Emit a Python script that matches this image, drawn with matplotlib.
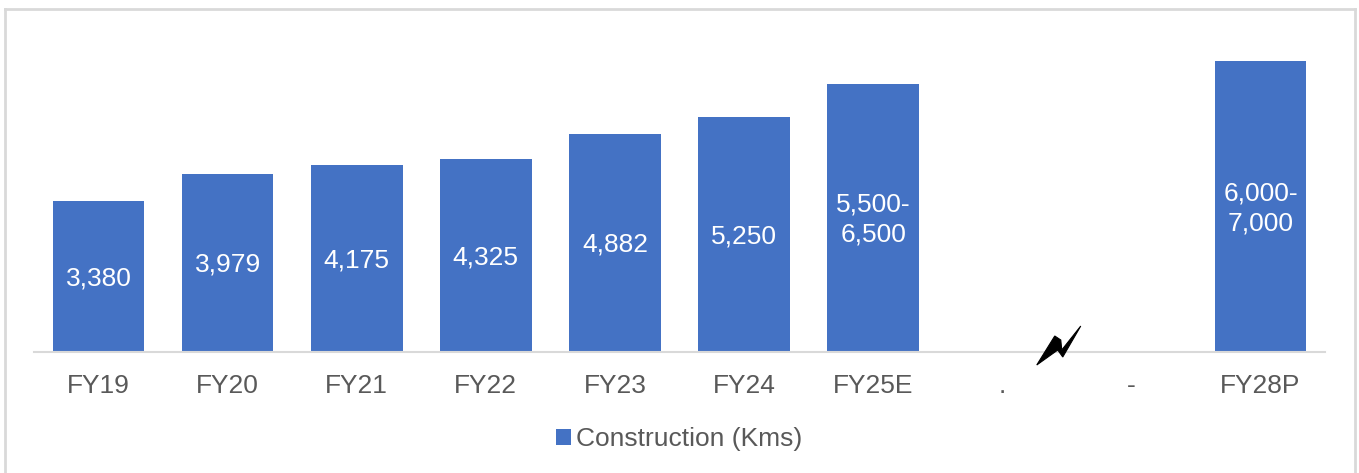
import numpy as np
import matplotlib
matplotlib.use("Agg")
import matplotlib.pyplot as plt
from matplotlib.patches import Polygon
from matplotlib.lines import Line2D

plt.rcParams['font.family'] = ['Liberation Sans', 'DejaVu Sans']

# road construction per year, Kms (ranges drawn at their midpoint)
categories = ['FY19', 'FY20', 'FY21', 'FY22', 'FY23', 'FY24', 'FY25E', '.', '-', 'FY28P']
values = [3380, 3979, 4175, 4325, 4882, 5250, 6000, np.nan, np.nan, 6500]
labels = ['3,380', '3,979', '4,175', '4,325', '4,882', '5,250', '5,500-\n6,500', '', '', '6,000-\n7,000']

blue = '#4472C4'
grey = '#595959'

fig = plt.figure(figsize=(13.59, 4.73), dpi=100)
ax = fig.add_axes([34 / 1359, 121 / 473, 1291 / 1359, 332 / 473])

x = np.arange(len(categories))
bars = ax.bar(x, np.nan_to_num(values), width=0.71, color=blue, label='Construction (Kms)')

for b, v, t in zip(bars, values, labels):
    if np.isnan(v):
        continue
    ax.text(b.get_x() + b.get_width() / 2, v / 2 - 40, t, ha='center', va='center',
            color='white', fontsize=19, linespacing=1.3)

ax.set_xlim(-0.5, len(categories) - 0.5)
ax.set_ylim(0, 332 * 22.36)
ax.set_xticks(x)
ax.set_xticklabels(categories, fontsize=19, color=grey)
ax.tick_params(axis='x', length=0, pad=16)
ax.set_yticks([])
for s in ['top', 'right', 'left']:
    ax.spines[s].set_visible(False)
ax.spines['bottom'].set_color('#d9d9d9')
ax.spines['bottom'].set_linewidth(1.5)

# axis-break bolt between the "." and "-" slots (offsets in pixels)
bolt = np.array([[-21, -13], [-3, 16], [3, 12], [4, 2], [23, 26], [5, -5], [0, 2]])
anchor = ax.transData.transform((7.43, 0))
ax.add_patch(Polygon(anchor + bolt, closed=True, transform=None, facecolor='black',
                     edgecolor='black', linewidth=0.8, clip_on=False, zorder=5))

leg = ax.legend(loc='center', bbox_to_anchor=(0.5, -0.262), frameon=False,
                fontsize=19, handlelength=0.55, handleheight=0.55,
                handletextpad=0.2, borderaxespad=0)
for t in leg.get_texts():
    t.set_color(grey)

# light frame around the figure
frame_kw = dict(color='#d9d9d9', linewidth=2, transform=fig.transFigure)
fig.add_artist(Line2D([4.5 / 1359, 4.5 / 1359], [0, 1 - 9.5 / 473], **frame_kw))
fig.add_artist(Line2D([4.5 / 1359, 1354.5 / 1359], [1 - 9.5 / 473, 1 - 9.5 / 473], **frame_kw))
fig.add_artist(Line2D([1354.5 / 1359, 1354.5 / 1359], [0, 1 - 9.5 / 473], **frame_kw))

fig.savefig('out.png', dpi=100)
